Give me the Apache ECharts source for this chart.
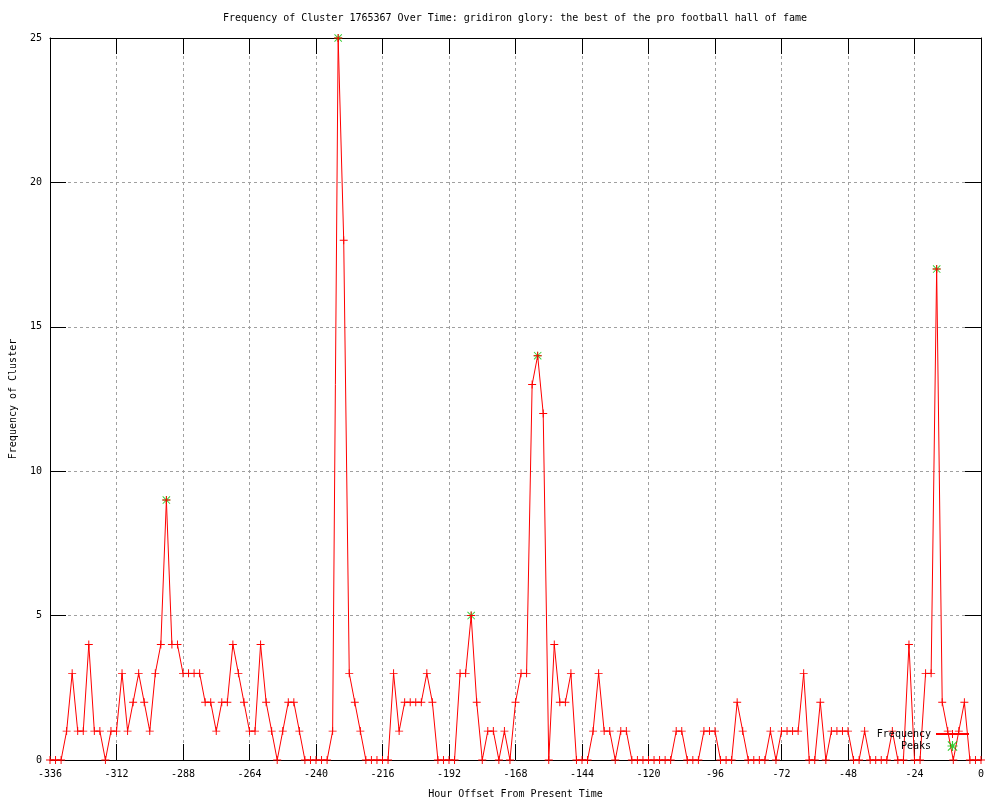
<!DOCTYPE html>
<html>
<head>
<meta charset="utf-8">
<script src="https://cdn.jsdelivr.net/npm/echarts@6/dist/echarts.min.js"></script>
<style>html,body{margin:0;padding:0;background:#fff}#c{width:1000px;height:800px}</style>
</head>
<body>
<div id="c"></div>
<script>
var hours = [-336,-334,-332,-330,-328,-326,-324,-322,-320,-318,-316,-314,-312,-310,-308,-306,-304,-302,-300,-298,-296,-294,-292,-290,-288,-286,-284,-282,-280,-278,-276,-274,-272,-270,-268,-266,-264,-262,-260,-258,-256,-254,-252,-250,-248,-246,-244,-242,-240,-238,-236,-234,-232,-230,-228,-226,-224,-222,-220,-218,-216,-214,-212,-210,-208,-206,-204,-202,-200,-198,-196,-194,-192,-190,-188,-186,-184,-182,-180,-178,-176,-174,-172,-170,-168,-166,-164,-162,-160,-158,-156,-154,-152,-150,-148,-146,-144,-142,-140,-138,-136,-134,-132,-130,-128,-126,-124,-122,-120,-118,-116,-114,-112,-110,-108,-106,-104,-102,-100,-98,-96,-94,-92,-90,-88,-86,-84,-82,-80,-78,-76,-74,-72,-70,-68,-66,-64,-62,-60,-58,-56,-54,-52,-50,-48,-46,-44,-42,-40,-38,-36,-34,-32,-30,-28,-26,-24,-22,-20,-18,-16,-14,-12,-10,-8,-6,-4,-2,0];
var frequency = [0,0,0,1,3,1,1,4,1,1,0,1,1,3,1,2,3,2,1,3,4,9,4,4,3,3,3,3,2,2,1,2,2,4,3,2,1,1,4,2,1,0,1,2,2,1,0,0,0,0,0,1,25,18,3,2,1,0,0,0,0,0,3,1,2,2,2,2,3,2,0,0,0,0,3,3,5,2,0,1,1,0,1,0,2,3,3,13,14,12,0,4,2,2,3,0,0,0,1,3,1,1,0,1,1,0,0,0,0,0,0,0,0,1,1,0,0,0,1,1,1,0,0,0,2,1,0,0,0,0,1,0,1,1,1,1,3,0,0,2,0,1,1,1,1,0,0,1,0,0,0,0,1,0,0,4,0,0,3,3,17,2,1,0,1,2,0,0,0];
var peakHours = [-294,-232,-184,-160,-16];
var peakValues = [9,25,5,14,17];
var xTicks = {min:-336, max:0, step:24};
var yTicks = {min:0, max:25, step:5};

var FONT = 'DejaVu Sans Mono';
var freqData = hours.map(function(h,i){return [h, frequency[i]];});
var peakData = peakHours.map(function(h,i){return [h, peakValues[i]];});
var PLUS = 'path://M0,4.4H10V5.6H0Z M4.4,0H5.6V10H4.4Z';
var STAR = 'path://M0,0.8L0.8,0L10,9.2L9.2,10Z M9.2,0L10,0.8L0.8,10L0,9.2Z M0,4.4H10V5.6H0Z M4.4,0H5.6V10H4.4Z';
var txt = {color:'#000', fontFamily:FONT, fontSize:10};
var grid = {type:[3,3], color:'#a0a0a0', width:1};
var axLine = {show:true, onZero:false, lineStyle:{color:'#000', width:1}};
var axTick = {show:true, inside:true, length:16, lineStyle:{color:'#000'}};

var chart = echarts.init(document.getElementById('c'), null, {renderer:'canvas'});
chart.setOption({
  animation:false,
  backgroundColor:'#fff',
  title:{text:'Frequency of Cluster 1765367 Over Time: gridiron glory: the best of the pro football hall of fame',
    left:515, top:13, textAlign:'center', padding:0,
    textStyle:{color:'#000', fontFamily:FONT, fontSize:10, fontWeight:'normal'}},
  grid:{left:50, right:19, top:38, bottom:40, containLabel:false, outerBoundsMode:'none'},
  legend:{orient:'vertical', right:25, top:724, align:'right', itemWidth:33, itemHeight:10, itemGap:2,
    textStyle:{color:'#000', fontFamily:FONT, fontSize:10, lineHeight:10},
    data:['Frequency','Peaks']},
  xAxis:[{type:'value', min:xTicks.min, max:xTicks.max, interval:xTicks.step, position:'bottom',
    name:'Hour Offset From Present Time', nameLocation:'middle', nameGap:29, nameTextStyle:txt,
    axisLine:axLine, axisTick:axTick,
    axisLabel:Object.assign({margin:9}, txt),
    splitLine:{show:true, lineStyle:grid}},
   {type:'value', min:xTicks.min, max:xTicks.max, interval:xTicks.step, position:'top',
    axisLine:axLine, axisTick:axTick,
    axisLabel:{show:false}, splitLine:{show:false}}],
  yAxis:[{type:'value', min:yTicks.min, max:yTicks.max, interval:yTicks.step, position:'left',
    name:'Frequency of Cluster', nameLocation:'middle', nameGap:32, nameTextStyle:txt,
    axisLine:axLine, axisTick:axTick,
    axisLabel:Object.assign({margin:8}, txt),
    splitLine:{show:true, lineStyle:grid}},
   {type:'value', min:yTicks.min, max:yTicks.max, interval:yTicks.step, position:'right',
    axisLine:axLine, axisTick:axTick,
    axisLabel:{show:false}, splitLine:{show:false}}],
  series:[
    {name:'Peaks', type:'scatter', data:peakData, symbol:STAR, symbolSize:8,
     itemStyle:{color:'#00c000'}, z:2},
    {name:'Frequency', type:'line', data:freqData, symbol:PLUS, symbolSize:8, showSymbol:true, showAllSymbol:true,
     itemStyle:{color:'#ff0000'}, lineStyle:{color:'#ff0000', width:1}, z:3, clip:false}
  ]
});
</script>
</body>
</html>
